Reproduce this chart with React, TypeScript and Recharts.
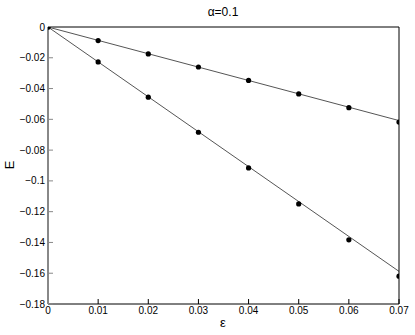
import { ComposedChart, Line, Scatter, XAxis, YAxis } from "recharts";

// ε values of the computed points
const EPS = [0, 0.01, 0.02, 0.03, 0.04, 0.05, 0.06, 0.07];
// computed E (dots)
const E_UPPER = [0, -0.0088, -0.0175, -0.026, -0.0347, -0.0435, -0.0524, -0.0618];
const E_LOWER = [0, -0.0227, -0.0456, -0.0684, -0.0916, -0.115, -0.1383, -0.1619];
// straight reference lines: start and end values
const FIT_X = [0, 0.07];
const FIT_UPPER = [0, -0.0608];
const FIT_LOWER = [0, -0.1588];

const X_TICKS = [0, 0.01, 0.02, 0.03, 0.04, 0.05, 0.06, 0.07];
const Y_TICKS = [0, -0.02, -0.04, -0.06, -0.08, -0.1, -0.12, -0.14, -0.16, -0.18];

const FONT = "'Liberation Sans', Arial, Helvetica, sans-serif";

const dotsUpper = EPS.map((x, i) => ({ x, y: E_UPPER[i] }));
const dotsLower = EPS.map((x, i) => ({ x, y: E_LOWER[i] }));
const fitUpper = FIT_X.map((x, i) => ({ x, y: FIT_UPPER[i] }));
const fitLower = FIT_X.map((x, i) => ({ x, y: FIT_LOWER[i] }));

const fmt = (v: number) => {
  if (v === 0) return "0";
  const s = String(Math.abs(Number(v.toFixed(2))));
  return v < 0 ? "\u2212" + s : s;
};

const tickStyle = { fill: "#000", fontSize: 10, fontFamily: FONT };

const Dot = (props: any) => (
  <circle cx={props.cx} cy={props.cy} r={2.6} fill="#000" />
);

export default function App() {
  return (
    <div
      style={{
        position: "absolute",
        left: 0,
        top: 0,
        width: 415,
        height: 335,
        background: "#fff",
        fontFamily: FONT,
      }}
    >
      <ComposedChart
        width={415}
        height={335}
        margin={{ top: 26, right: 15, bottom: 11, left: 0 }}
      >
        <XAxis
          xAxisId="b"
          dataKey="x"
          type="number"
          domain={[0, 0.07]}
          ticks={X_TICKS}
          tickFormatter={fmt}
          height={20}
          tick={tickStyle}
          tickSize={-5}
          tickMargin={8}
          axisLine={{ stroke: "#000" }}
          tickLine={{ stroke: "#000" }}
          allowDataOverflow
        />
        <XAxis
          xAxisId="t"
          orientation="top"
          dataKey="x"
          type="number"
          domain={[0, 0.07]}
          ticks={X_TICKS}
          height={1}
          tick={false}
          tickSize={-5}
          axisLine={{ stroke: "#000" }}
          tickLine={{ stroke: "#000" }}
        />
        <YAxis
          yAxisId="l"
          dataKey="y"
          type="number"
          domain={[-0.18, 0]}
          ticks={Y_TICKS}
          tickFormatter={fmt}
          width={48}
          tick={tickStyle}
          tickSize={-5}
          tickMargin={8}
          axisLine={{ stroke: "#888", strokeWidth: 2 }}
          tickLine={{ stroke: "#888" }}
          allowDataOverflow
        />
        <YAxis
          yAxisId="r"
          orientation="right"
          dataKey="y"
          type="number"
          domain={[-0.18, 0]}
          ticks={Y_TICKS}
          width={1}
          tick={false}
          tickSize={-5}
          axisLine={{ stroke: "#000" }}
          tickLine={{ stroke: "#000" }}
        />
        <Line
          xAxisId="b"
          yAxisId="l"
          data={fitUpper}
          dataKey="y"
          stroke="#555"
          strokeWidth={1}
          dot={false}
          isAnimationActive={false}
        />
        <Line
          xAxisId="b"
          yAxisId="l"
          data={fitLower}
          dataKey="y"
          stroke="#555"
          strokeWidth={1}
          dot={false}
          isAnimationActive={false}
        />
        <Scatter
          xAxisId="b"
          yAxisId="l"
          data={dotsUpper}
          shape={Dot}
          isAnimationActive={false}
        />
        <Scatter
          xAxisId="b"
          yAxisId="l"
          data={dotsLower}
          shape={Dot}
          isAnimationActive={false}
        />
      </ComposedChart>
      <div
        style={{
          position: "absolute",
          left: 173,
          width: 100,
          top: 5,
          textAlign: "center",
          fontSize: 12,
          color: "#000",
        }}
      >
        α=0.1
      </div>
      <div
        style={{
          position: "absolute",
          left: 173,
          width: 100,
          top: 315,
          textAlign: "center",
          fontSize: 13,
          color: "#000",
        }}
      >
        ε
      </div>
      <div
        style={{
          position: "absolute",
          left: 9,
          top: 165,
          fontSize: 13,
          color: "#000",
          transform: "translate(-50%, -50%) rotate(-90deg)",
        }}
      >
        E
      </div>
    </div>
  );
}
